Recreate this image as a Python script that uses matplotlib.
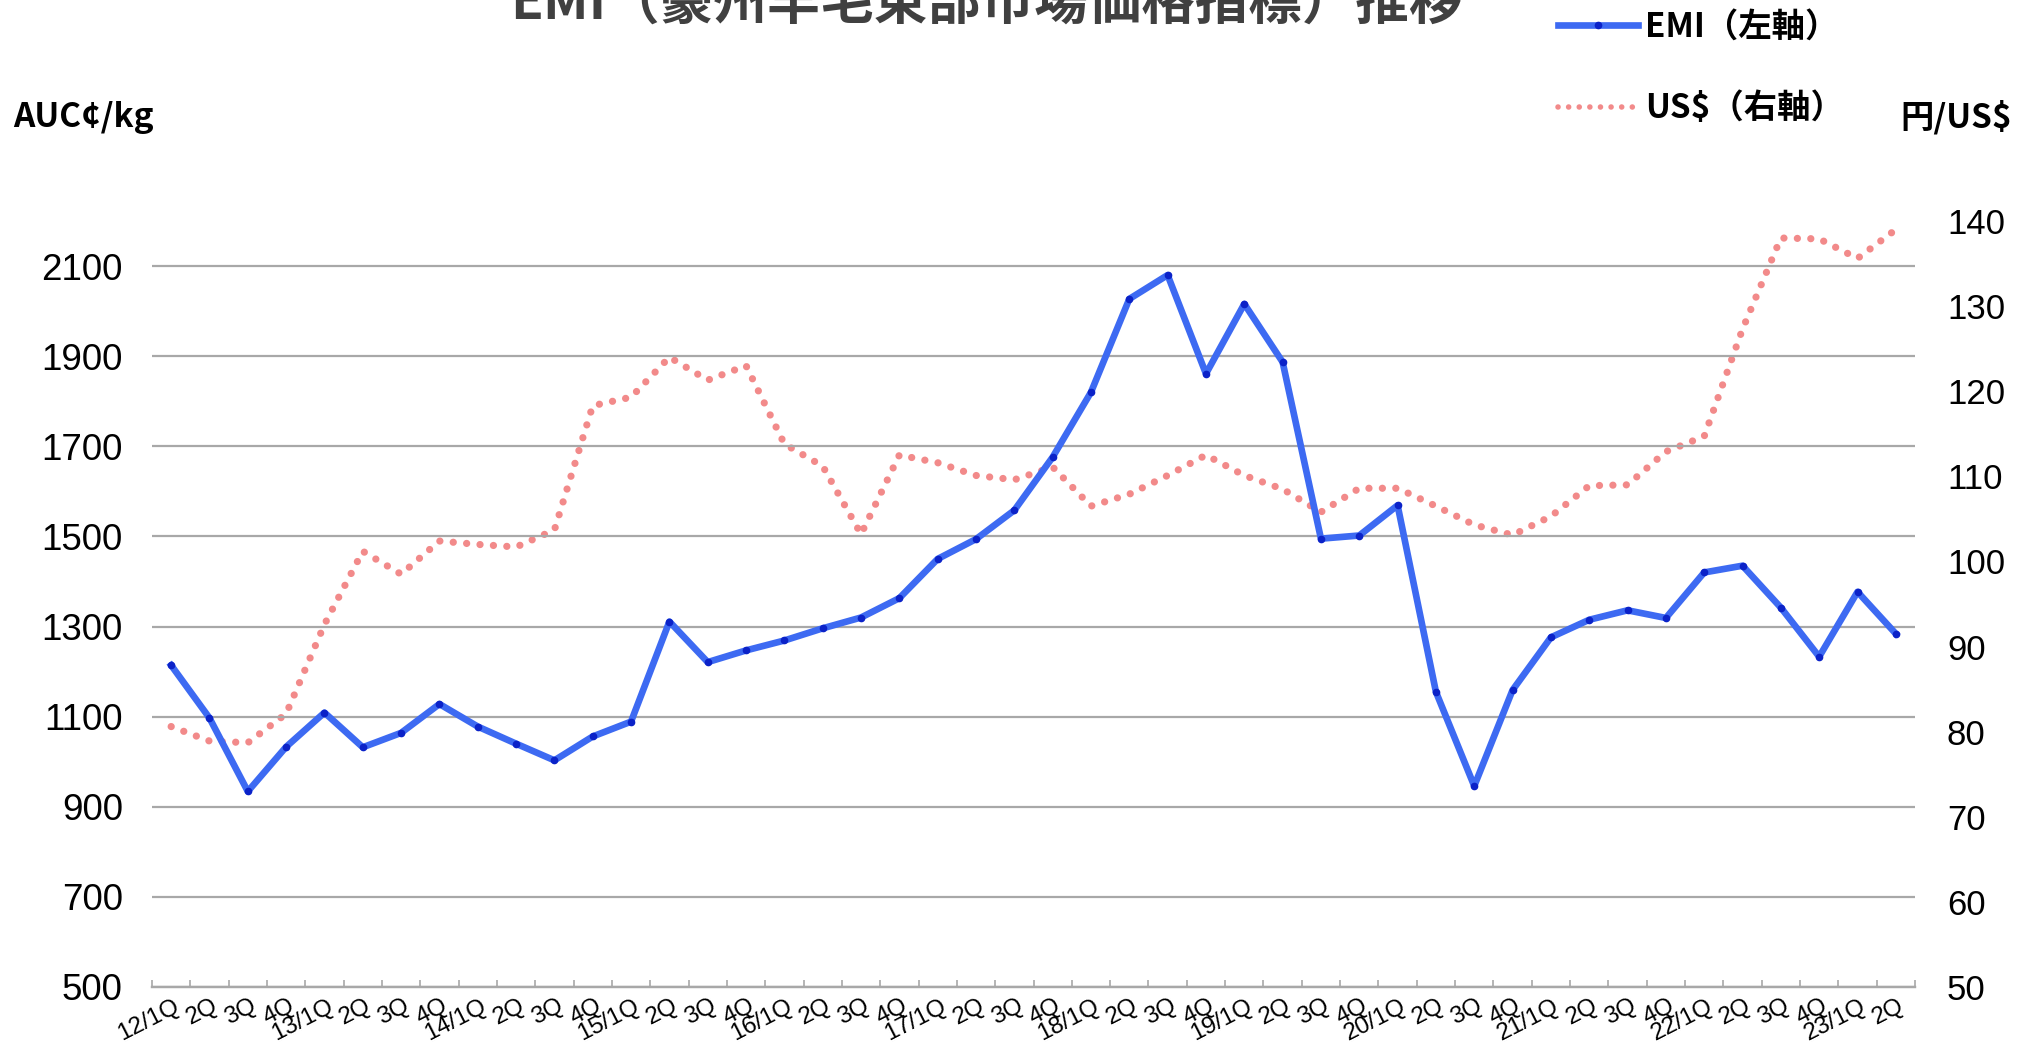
import numpy as np
import matplotlib.pyplot as plt
from matplotlib.lines import Line2D
from matplotlib.transforms import ScaledTranslation

# 四半期ラベル (12/1Q ~ 23/2Q)
years = ['12', '13', '14', '15', '16', '17', '18', '19', '20', '21', '22', '23']
quarters = []
for y in years:
    quarters += [y + '/1Q', '2Q', '3Q', '4Q']
quarters = quarters[:46]

# EMI (AUC¢/kg) - 左軸
emi = [1214, 1097, 934, 1033, 1109, 1032, 1064, 1128, 1078, 1040,
       1003, 1056, 1089, 1311, 1221, 1247, 1269, 1296, 1320, 1363,
       1450, 1494, 1558, 1676, 1820, 2027, 2080, 1861, 2016, 1887,
       1495, 1502, 1569, 1155, 946, 1159, 1276, 1315, 1336, 1319,
       1420, 1435, 1342, 1233, 1377, 1284]

# 円/US$ - 右軸
usd = [80.6, 78.9, 78.7, 82.1, 92.6, 101.2, 98.5, 102.4, 102.0, 101.7,
       103.7, 118.3, 119.3, 124.0, 121.3, 123.0, 113.8, 111.2, 103.2, 112.5,
       111.6, 110.1, 109.6, 111.1, 106.5, 107.9, 110.1, 112.5, 110.1, 108.5,
       105.8, 108.6, 108.6, 106.5, 104.3, 103.1, 105.3, 108.9, 109.0, 112.9,
       114.7, 127.3, 138.0, 137.9, 135.6, 139.0]

plt.rcParams['font.family'] = ['Liberation Sans', 'Noto Sans CJK JP']
jp_font = ['Noto Sans CJK JP']

blue = '#3D6AF2'
red = '#F28A8A'
grid = '#A8A8A8'

fig = plt.figure(figsize=(20.37, 10.47), dpi=100)
ax = fig.add_axes([152 / 2037, 1 - 987 / 1047, 1763 / 2037, 766 / 1047])
ax2 = ax.twinx()

x = np.arange(len(quarters))
ax.plot(x, emi, color=blue, lw=4.8, marker='o', ms=4.5,
        mfc='#0B22C8', mec='#0B22C8', zorder=3)
ax2.plot(x, usd, color=red, lw=5.2, linestyle=(0, (0.01, 1.85)),
         dash_capstyle='round')

# 青線を手前に
ax.set_zorder(ax2.get_zorder() + 1)
ax.patch.set_visible(False)

ax.set_xlim(-0.5, len(quarters) - 0.5)
ax.set_ylim(500, 2200)
ax.set_yticks(np.arange(500, 2101, 200))
ax2.set_ylim(50, 140)
ax2.set_yticks(np.arange(50, 141, 10))

ax.grid(axis='y', color=grid, lw=1.6)
for a in (ax, ax2):
    for s in ('top', 'left', 'right'):
        a.spines[s].set_visible(False)
    a.spines['bottom'].set_color(grid)
    a.spines['bottom'].set_linewidth(1.6)

ax.tick_params(axis='y', length=0, labelsize=26.5, pad=21)
ax2.tick_params(axis='y', length=0, labelsize=25, pad=23)

ax.set_xticks(x)
ax.set_xticklabels(quarters, rotation=27, ha='right', va='center',
                   rotation_mode='anchor', fontsize=17.5)
ax.tick_params(axis='x', which='major', length=0, pad=13)
shift = ScaledTranslation(7 / 100, 0, fig.dpi_scale_trans)
for lab in ax.get_xticklabels():
    lab.set_transform(lab.get_transform() + shift)
ax.set_xticks(np.arange(-0.5, len(quarters), 1), minor=True)
ax.tick_params(axis='x', which='minor', direction='in', length=5,
               color=grid, width=1.2)

fig.text(986 / 2037, 1 - 20 / 1047, 'EMI（豪州羊毛東部市場価格指標）推移',
         ha='center', va='baseline', fontsize=38.5, fontweight='bold',
         color='#404040', family='Noto Sans CJK JP')

fig.text(13 / 2037, 1 - 117 / 1047, 'AUC¢/kg', ha='left', va='center',
         fontsize=24, fontweight='bold', family=jp_font)
fig.text(1900 / 2037, 1 - 117 / 1047, '円/US$', ha='left', va='center',
         fontsize=24, fontweight='bold', family=jp_font)

handles = [
    Line2D([], [], color=blue, lw=4.8, marker='o', ms=4.5,
           mfc='#0B22C8', mec='#0B22C8', markevery=[1]),
    Line2D([], [], color=red, lw=4, linestyle=(0, (0.01, 1.9)),
           dash_capstyle='round'),
]
fig.legend(handles, ['EMI（左軸）', 'US$（右軸）'], loc='upper left',
           bbox_to_anchor=(1528 / 2037, 1.018), frameon=False,
           handlelength=2.4, handletextpad=0.2, labelspacing=1.45,
           prop={'family': jp_font, 'weight': 'bold', 'size': 24})

fig.savefig('out.png', dpi=100)
